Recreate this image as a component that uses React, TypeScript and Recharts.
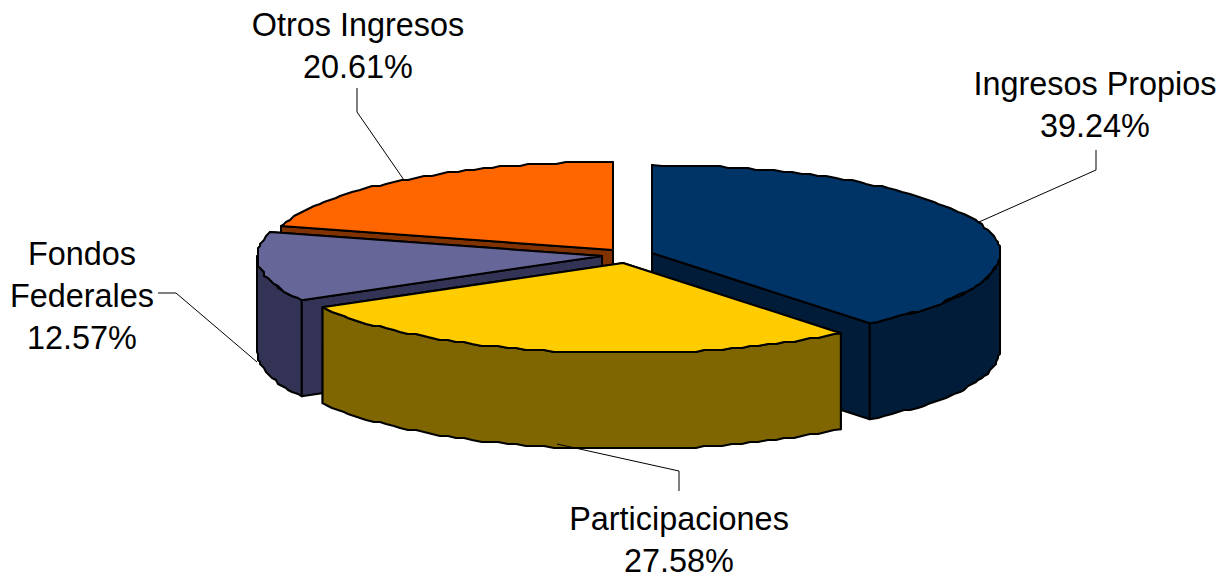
import React from 'react';
import { PieChart, Pie } from 'recharts';

const names = ['Ingresos Propios', 'Participaciones', 'Fondos Federales', 'Otros Ingresos'];
const shares = [39.24, 27.58, 12.57, 20.61];
const data = names.map((name, i) => ({ name, value: shares[i] }));

const topColors = ['#003366', '#FFCC00', '#666699', '#FF6600'];
const wallColors = ['#001C38', '#806600', '#333355', '#803300'];

// exploded slice apex on the page
const apexes = [
  { x: 652, y: 253 },
  { x: 623, y: 263 },
  { x: 602, y: 256 },
  { x: 613, y: 250 },
];

// back to front
const drawOrder = ['Ingresos Propios', 'Otros Ingresos', 'Fondos Federales', 'Participaciones'];

const labelLayout: Record<string, any> = {
  'Ingresos Propios': { x: 1095, y: 95, lines: ['Ingresos Propios'], leader: '1096,150 1096,170 979,222' },
  Participaciones: { x: 679, y: 530, lines: ['Participaciones'], leader: '557,444 679,471 679,491' },
  'Fondos Federales': { x: 82, y: 265, lines: ['Fondos', 'Federales'], leader: '158,293 176,293 257,362' },
  'Otros Ingresos': { x: 358, y: 36, lines: ['Otros Ingresos'], leader: '357,88 357,112 404,180' },
};

const RY_BACK = 88;
const RY_FRONT = 90;
const LEFT_SQUEEZE = 345 / 348;
const DEPTH = 96;
const ROUGH = 2;

const snap = (v: number) => Math.round(v / ROUGH) * ROUGH;

// points along the rim, theta clockwise from the top
function rim(ax: number, ay: number, r: number, from: number, to: number) {
  const pts: [number, number][] = [];
  const steps = Math.max(2, Math.ceil((to - from) / 1.6));
  for (let i = 0; i <= steps; i++) {
    const t = ((from + ((to - from) * i) / steps) * Math.PI) / 180;
    const c = Math.cos(t);
    const s = Math.sin(t);
    const px = ax + r * s * (s < 0 ? LEFT_SQUEEZE : 1);
    const py = ay - (c > 0 ? RY_BACK : RY_FRONT) * c;
    pts.push(i === 0 || i === steps ? [px, py] : [snap(px), snap(py)]);
  }
  return pts;
}

const toPoints = (pts: [number, number][]) => pts.map((p) => `${p[0].toFixed(1)},${p[1].toFixed(1)}`).join(' ');

function Slice3D(props: any) {
  const i = names.indexOf(props.name);
  const { x: ax, y: ay } = apexes[i];
  const r = props.outerRadius;
  const from = 90 - props.startAngle;
  const to = 90 - props.endAngle;
  const edge = rim(ax, ay, r, from, to);
  const first = edge[0];
  const last = edge[edge.length - 1];
  const style = { stroke: '#000', strokeWidth: 2, strokeLinejoin: 'round' as const };

  const frontFrom = Math.max(from, 90);
  const frontTo = Math.min(to, 270);
  let outer: [number, number][] = [];
  if (frontTo > frontFrom) {
    const arc = rim(ax, ay, r, frontFrom, frontTo);
    outer = [...arc, ...arc.slice().reverse().map((p) => [p[0], p[1] + DEPTH] as [number, number])];
  }

  return (
    <g>
      <polygon
        points={toPoints([[ax, ay], last, [last[0], last[1] + DEPTH], [ax, ay + DEPTH]])}
        fill={wallColors[i]}
        {...style}
      />
      <polygon
        points={toPoints([[ax, ay], first, [first[0], first[1] + DEPTH], [ax, ay + DEPTH]])}
        fill={wallColors[i]}
        {...style}
      />
      {outer.length > 0 && <polygon points={toPoints(outer)} fill={wallColors[i]} {...style} />}
      <polygon points={toPoints([[ax, ay], ...edge])} fill={topColors[i]} {...style} />
    </g>
  );
}

function SliceLabel(props: any) {
  const layout = labelLayout[props.name];
  const rows = [...layout.lines, `${Number(props.value).toFixed(2)}%`];
  return (
    <g>
      <polyline points={layout.leader} fill="none" stroke="#000" strokeWidth={1} />
      <text fontFamily="'Liberation Sans', Arial, sans-serif" fontSize={32.4} fill="#000" textAnchor="middle">
        {rows.map((row: string, k: number) => (
          <tspan key={row} x={layout.x} y={layout.y + k * 42}>
            {row}
          </tspan>
        ))}
      </text>
    </g>
  );
}

export default function App() {
  return (
    <div style={{ position: 'absolute', left: 0, top: 0, width: 1228, height: 575, background: '#fff' }}>
      <PieChart width={1228} height={575} margin={{ top: 0, right: 0, bottom: 0, left: 0 }}>
        {drawOrder.map((name, pass) => (
          <Pie
            key={name}
            data={data}
            dataKey="value"
            nameKey="name"
            cx={625}
            cy={257}
            innerRadius={0}
            outerRadius={348}
            startAngle={90}
            endAngle={-270}
            isAnimationActive={false}
            labelLine={false}
            label={pass === drawOrder.length - 1 ? (p: any) => <SliceLabel {...p} /> : false}
            shape={(p: any) => (p.name === name ? <Slice3D {...p} /> : <g />)}
          />
        ))}
      </PieChart>
    </div>
  );
}
